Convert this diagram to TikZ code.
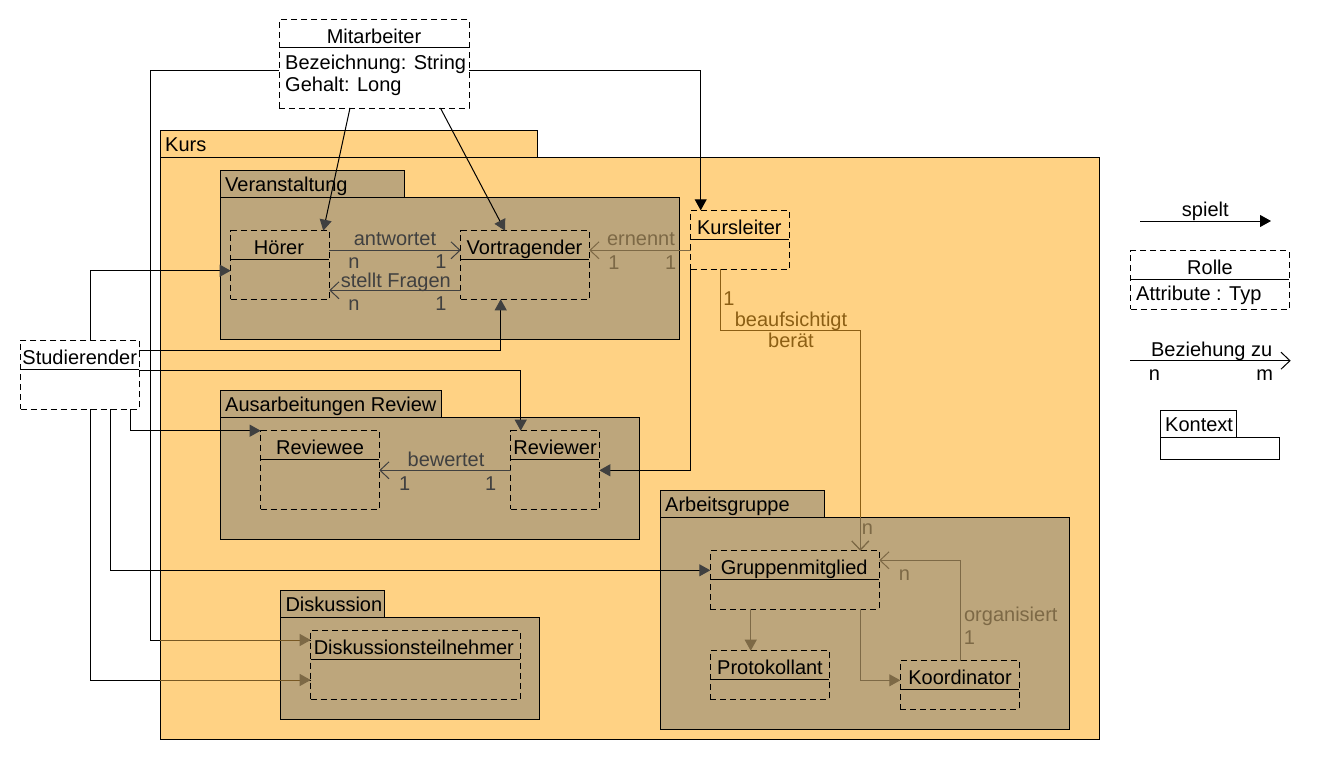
\documentclass[tikz,border=0pt]{standalone}
\usepackage{fontspec}
\setmainfont{Liberation Sans}
\usetikzlibrary{arrows.meta,fit,calc}
\definecolor{kursc}{RGB}{255,210,132}
\definecolor{ctxc}{RGB}{189,166,124}
\definecolor{dgray}{RGB}{64,64,64}
\definecolor{bgray}{RGB}{125,105,70}
\definecolor{goldc}{RGB}{140,95,20}
\definecolor{dbrown}{RGB}{120,88,35}
\newcommand\fs{\fontsize{20}{22}\selectfont}
\tikzset{
  pkgb/.style={draw, line width=1pt, inner sep=0pt, outer sep=0pt},
  roleb/.style={draw, dash pattern=on 6pt off 4pt, line width=1pt, inner sep=0pt, outer sep=0pt},
  hdr/.style={line width=1pt},
  conn/.style={line width=1pt},
  lab/.style={inner sep=0pt, anchor=base},
  tri/.style={-{Triangle[length=11pt,width=12pt,color=#1]}},
  tri/.default=black,
  barb/.style={-{Straight Barb[length=9pt,width=17pt,color=#1]}},
  barb/.default=black,
}
\newcommand\rolebox[7][]{%
  \node[roleb,#1,fit={(#3) (#4)}] (#2) {};
  \draw[hdr] ($(#2.north west)+(0,#5)$) -- ($(#2.north east)+(0,#5)$);
  \node[lab] (#2-t) at (#6) {#7};
}
\begin{document}
\begin{tikzpicture}[x=1pt,y=-1pt,font=\fs]
\useasboundingbox (0,0) rectangle (1330,760);
\fill[white] (0,0) rectangle (1330,760);

% ---------- packages ----------
\node[pkgb, fill=kursc, fit={(160,130) (537,157)}] (kurs-tab) {};
\node[pkgb, fill=kursc, fit={(160,157) (1099,739)}] (kurs) {};
\node[lab, anchor=base west] (kurs-l) at (165,151) {Kurs};

\node[pkgb, fill=ctxc, fit={(220.7,170.7) (404.3,197.3)}] (ver-tab) {};
\node[pkgb, fill=ctxc, fit={(220.7,197.3) (679.3,339)}] (ver) {};
\node[lab, anchor=base west] (ver-l) at (225,191.7) {Veranstaltung};

\node[pkgb, fill=ctxc, fit={(220.7,390.7) (441.3,417)}] (aus-tab) {};
\node[pkgb, fill=ctxc, fit={(220.7,417) (639.3,539)}] (aus) {};
\node[lab, anchor=base west] (aus-l) at (225,411.7) {Ausarbeitungen Review};

\node[pkgb, fill=ctxc, fit={(660.7,490.7) (824,517.3)}] (agp-tab) {};
\node[pkgb, fill=ctxc, fit={(660.7,517.3) (1069.3,729)}] (agp) {};
\node[lab, anchor=base west] (agp-l) at (665,511.7) {Arbeitsgruppe};

\node[pkgb, fill=ctxc, fit={(280,590) (384,617)}] (dis-tab) {};
\node[pkgb, fill=ctxc, fit={(280,617) (539,719)}] (dis) {};
\node[lab, anchor=base west] (dis-l) at (285.3,611.7) {Diskussion};

% ---------- roles ----------
\rolebox[fill=white]{mit}{279,20}{469,108}{28}{374,44}{Mitarbeiter}
\node[lab, anchor=base west] (mit-a1) at (285,70) {Bezeichnung: String};
\node[lab, anchor=base west] (mit-a2) at (285,92) {Gehalt: Long};

\rolebox[fill=white]{stud}{20.7,340}{139,409}{29}{79.7,364.3}{Studierender}

\rolebox{hoer}{230.7,230.7}{329.3,299.3}{28.6}{279,254}{Hörer}
\rolebox{vort}{460.7,230.7}{589.3,299.3}{28.6}{524.5,254}{Vortragender}
\rolebox{kl}{690.7,210.3}{789.3,269.3}{29}{739.3,234.3}{Kursleiter}
\rolebox{rwee}{260.7,430.7}{379.3,509.3}{28.6}{320,454}{Reviewee}
\rolebox{rwer}{510.7,430.7}{599.3,509.3}{28.6}{555,454}{Reviewer}
\rolebox{gm}{710.3,550.7}{879.3,609}{28.6}{794.2,574}{Gruppenmitglied}
\rolebox{prot}{710.3,650.7}{829.3,699.3}{28.6}{770,674}{Protokollant}
\rolebox{koord}{900.3,660.7}{1019.3,709.3}{28.6}{960,684}{Koordinator}
\rolebox{dt}{310.7,630.3}{520,699.3}{29}{413.8,654}{Diskussionsteilnehmer}

% ---------- connectors ----------
% Mitarbeiter spielt ...
\draw[conn, tri=dgray] ($(mit.south west)+(71,0)$) -- ($(hoer.north east)+(-6,0)$);
\draw[conn, tri=dgray] ($(mit.south west)+(161.4,0)$) -- ($(vort.north west)+(44.3,0)$);
\draw[conn, tri] ($(mit.north east)+(0,50.7)$) -| ($(kl.north west)+(10,0)$);
\coordinate (dtA) at ($(dt.north west)+(0,9.7)$);
\draw[conn] ($(mit.north west)+(0,50.7)$) -| ($(dtA)+(-160.3,0)$) -- (dtA);
\draw[conn, dbrown, tri=bgray] (kurs.west |- dtA) -- (dtA);

% Studierender spielt ...
\draw[conn, tri=dgray] ($(stud.north west)+(70,0)$) |- ($(hoer.north west)+(0,40)$);
\draw[conn, tri=dgray] ($(stud.north east)+(0,10)$) -| ($(vort.south west)+(40,0)$);
\draw[conn, tri=dgray] ($(stud.north east)+(0,30.7)$) -| ($(rwer.north west)+(10,0)$);
\draw[conn, tri=dgray] ($(stud.south east)+(-8.3,0)$) |- (rwee.north west);
\draw[conn, tri=dgray] ($(stud.south west)+(90,0)$) |- ($(gm.north west)+(0,19.6)$);
\coordinate (dtB) at ($(dt.north west)+(0,49.7)$);
\draw[conn] ($(stud.south west)+(70,0)$) |- (dtB);
\draw[conn, dbrown, tri=bgray] (kurs.west |- dtB) -- (dtB);

% Veranstaltung
\draw[conn, dgray, barb=dgray] ($(hoer.north east)+(0,19.6)$) -- ($(vort.north west)+(0,19.6)$);
\node[lab, dgray] (l-antw) at (395,245.5) {antwortet};
\node[lab, dgray] (l-antw-n) at (354,268) {n};
\node[lab, dgray] (l-antw-1) at (441,268) {1};
\draw[conn, dgray, barb=dgray] ($(vort.north west)+(0,59.6)$) -- ($(hoer.north east)+(0,59.6)$);
\node[lab, dgray] (l-stf) at (395.8,287.5) {stellt Fragen};
\node[lab, dgray] (l-stf-n) at (354,310) {n};
\node[lab, dgray] (l-stf-1) at (441,310) {1};

% Kursleiter
\draw[conn, bgray, barb=bgray] ($(kl.north west)+(0,40)$) -- ($(vort.north east)+(0,19.6)$);
\node[lab, bgray] (l-ern) at (641,245.5) {ernennt};
\node[lab, bgray] (l-ern-1a) at (614,269) {1};
\node[lab, bgray] (l-ern-1b) at (670.7,269) {1};
\draw[conn, tri=dgray] (kl.south west) |- ($(rwer.north east)+(0,39.6)$);

% Ausarbeitungen Review
\draw[conn, dgray, barb=dgray] ($(rwer.north west)+(0,39.6)$) -- ($(rwee.north east)+(0,39.6)$);
\node[lab, dgray] (l-bew) at (446,466) {bewertet};
\node[lab, dgray] (l-bew-1a) at (404.7,490) {1};
\node[lab, dgray] (l-bew-1b) at (490.7,490) {1};

% beaufsichtigt / beraet
\coordinate (gmtop) at ($(gm.north east)+(-19,0)$);
\draw[conn, goldc, barb=bgray] ($(kl.south west)+(30,0)$) |- ($(gmtop)+(0,-220.7)$) -- (gmtop);
\draw[conn, bgray, barb=bgray] (agp.north -| gmtop) -- (gmtop);
\node[lab, goldc] (l-bea-1) at (729,305) {1};
\node[lab, goldc] (l-bea) at (791,326) {beaufsichtigt};
\node[lab, goldc] (l-ber) at (791,347.7) {berät};
\node[lab, bgray] (l-bea-n) at (867.5,534) {n};

% Arbeitsgruppe
\draw[conn, bgray, tri=bgray] ($(gm.south west)+(40.4,0)$) -- ($(prot.north west)+(40.4,0)$);
\draw[conn, bgray, tri=bgray] ($(gm.south east)+(-19,0)$) |- ($(koord.north west)+(0,19.6)$);
\draw[conn, bgray, barb=bgray] ($(koord.north west)+(60.4,0)$) |- ($(gm.north east)+(0,9.6)$);
\node[lab, bgray] (l-org-n) at (904.3,580) {n};
\node[lab, bgray] (l-org) at (1010.8,621.7) {organisiert};
\node[lab, bgray] (l-org-1) at (969.3,644) {1};

% ---------- legend ----------
\coordinate (sp1) at (1140,221);
\coordinate (sp2) at (1271,221);
\draw[conn, tri] (sp1) -- (sp2);
\node[lab] (leg-sp) at (1205.3,216) {spielt};

\rolebox[fill=white]{rolle}{1130.7,250.7}{1289.3,309}{28.6}{1210,274}{Rolle}
\node[lab, anchor=base west] (rolle-a) at (1136,300) {Attribute : Typ};

\coordinate (bz1) at (1130,360.7);
\coordinate (bz2) at (1290.7,360.7);
\draw[conn, barb] (bz1) -- (bz2);
\node[lab] (leg-bz) at (1211.7,356.7) {Beziehung zu};
\node[lab] (leg-n) at (1154.3,380) {n};
\node[lab] (leg-m) at (1264.7,380) {m};

\node[pkgb, fill=white, fit={(1160.7,410) (1236.7,437.3)}] (ktx-tab) {};
\node[pkgb, fill=white, fit={(1160.7,437.3) (1279.3,459.3)}] (ktx) {};
\node[lab, anchor=base west] (ktx-l) at (1165,431.7) {Kontext};
\end{tikzpicture}
\end{document}
